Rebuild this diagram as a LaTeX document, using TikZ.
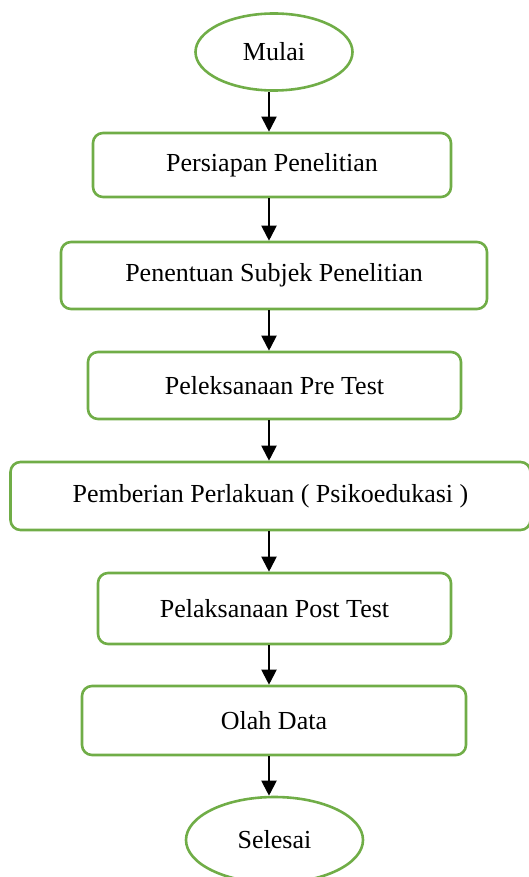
\documentclass[tikz,border=0pt]{standalone}
\usepackage{fontspec}
\setmainfont{Liberation Serif}
\usepackage{tikz}
\usetikzlibrary{shapes.geometric, arrows.meta, positioning}
\definecolor{flowgreen}{HTML}{70AD47}

\begin{document}
\begin{tikzpicture}[
  x=1pt, y=-1pt,
  every node/.style={font=\fontsize{26}{30}\selectfont},
  terminal/.style={ellipse, draw=flowgreen, line width=2.6pt, inner sep=0pt},
  stepbox/.style={rectangle, rounded corners=10pt, draw=flowgreen, line width=2.6pt, inner sep=0pt},
  arr/.style={-{Triangle[width=15pt,length=15pt]}, line width=2pt},
]
  \useasboundingbox (0,0) rectangle (529,877);
  \coordinate (ax) at (269,0);

  \node[terminal,minimum width=157pt,minimum height=77pt] (mulai) at (274,52) {Mulai};
  \node[stepbox,minimum width=358pt,minimum height=64pt] (siap) at (272,165) {Persiapan Penelitian};
  \node[stepbox,minimum width=426pt,minimum height=67pt] (subjek) at (274,275.5) {Penentuan Subjek Penelitian};
  \node[stepbox,minimum width=373pt,minimum height=67pt] (pre) at (274.5,385.5) {Peleksanaan Pre Test};
  \node[stepbox,minimum width=520pt,minimum height=68pt] (lakuan) at (270.5,496) {Pemberian Perlakuan ( Psikoedukasi )};
  \node[stepbox,minimum width=353pt,minimum height=71pt] (post) at (274.5,608.5) {Pelaksanaan Post Test};
  \node[stepbox,minimum width=384pt,minimum height=69pt] (olah) at (274,720.5) {Olah Data};
  \node[terminal,minimum width=177pt,minimum height=86pt] (selesai) at (274.5,840) {Selesai};

  \draw[arr] (mulai.south -| ax) -- (siap.north -| ax);
  \draw[arr] (siap.south -| ax) -- (subjek.north -| ax);
  \draw[arr] (subjek.south -| ax) -- (pre.north -| ax);
  \draw[arr] (pre.south -| ax) -- (lakuan.north -| ax);
  \draw[arr] (lakuan.south -| ax) -- (post.north -| ax);
  \draw[arr] (post.south -| ax) -- (olah.north -| ax);
  \draw[arr] (olah.south -| ax) -- (selesai.north -| ax);
\end{tikzpicture}
\end{document}
